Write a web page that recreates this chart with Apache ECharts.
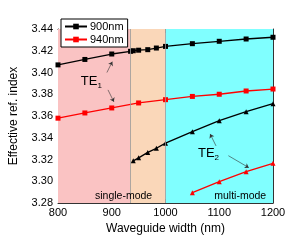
<!DOCTYPE html>
<html>
<head>
<meta charset="utf-8">
<script src="https://cdn.jsdelivr.net/npm/echarts@6/dist/echarts.min.js"></script>
<style>
  html, body { margin: 0; padding: 0; background: #fff; }
  #chart { width: 300px; height: 240px; }
</style>
</head>
<body>
<div id="chart"></div>
<script>
// waveguide widths (nm)
var te1Width900 = [800, 850, 900, 935, 940, 950, 967, 983, 1000, 1050, 1100, 1150, 1200];
var te1Index900 = [3.407, 3.412, 3.417, 3.4195, 3.420, 3.4205, 3.421, 3.4225, 3.424, 3.4265, 3.4287, 3.4308, 3.4324];

var te1Width940 = [800, 850, 900, 950, 1000, 1050, 1100, 1150, 1200];
var te1Index940 = [3.358, 3.3628, 3.3674, 3.372, 3.375, 3.378, 3.380, 3.383, 3.3848];

var te2Width900 = [940, 950, 967, 983, 1000, 1050, 1100, 1150, 1200];
var te2Index900 = [3.3188, 3.3215, 3.3265, 3.3303, 3.335, 3.3456, 3.3557, 3.364, 3.3713];

var te2Width940 = [1050, 1100, 1150, 1200];
var te2Index940 = [3.2895, 3.2996, 3.3088, 3.3165];

// regions: single-mode (both), single-mode (940 only), multi-mode
var modeEdges = [800, 934, 1000, 1200];
var modeColors = ['#fac3c3', '#fad7b9', '#80ffff'];

function pairs(xs, ys) {
  return xs.map(function (x, i) { return [x, ys[i]]; });
}

var fontName = 'Liberation Sans';

var chart = echarts.init(document.getElementById('chart'), null, { renderer: 'canvas' });

var axisCommon = {
  type: 'value',
  axisLine: { show: true, onZero: false, lineStyle: { color: '#333', width: 1 } },
  axisTick: { show: true, inside: true, length: 4, lineStyle: { color: '#333' } },
  minorTick: { show: true, splitNumber: 2, length: 2, lineStyle: { color: '#333' } },
  splitLine: { show: false },
  axisLabel: { color: '#000', fontFamily: fontName, fontSize: 11 }
};

function sub(label) {
  return {
    show: true,
    formatter: '{a|TE}{b|' + label + '}',
    rich: {
      a: { fontFamily: fontName, fontSize: 13, color: '#000' },
      b: { fontFamily: fontName, fontSize: 8, color: '#000', padding: [9, 0, 0, 0] }
    }
  };
}

var arrowStyle = { color: '#333', width: 0.6, type: 'solid' };

var option = {
  animation: false,
  textStyle: { fontFamily: fontName },
  grid: { left: 57, right: 27, top: 29, bottom: 37 },
  legend: {
    left: 61, top: 19,
    orient: 'vertical',
    data: ['900nm', '940nm'],
    backgroundColor: '#fff',
    borderColor: '#000',
    borderWidth: 1,
    borderRadius: 0,
    padding: [2, 4, 2, 3],
    itemGap: 2,
    itemWidth: 22,
    itemHeight: 7,
    textStyle: { fontFamily: fontName, fontSize: 11, color: '#000', padding: [0, 0, 0, -2] }
  },
  xAxis: [
    Object.assign({}, axisCommon, {
      min: 800, max: 1200, interval: 100,
      name: 'Waveguide width (nm)',
      nameLocation: 'middle', nameGap: 20,
      nameTextStyle: { fontFamily: fontName, fontSize: 12, color: '#000' },
      axisLabel: {
        color: '#000', fontFamily: fontName, fontSize: 11, margin: 4,
        formatter: function (v) { return String(v); }
      }
    }),
    Object.assign({}, axisCommon, {
      min: 800, max: 1200, interval: 100, position: 'top',
      axisLabel: { show: false }
    })
  ],
  yAxis: [
    Object.assign({}, axisCommon, {
      min: 3.28, max: 3.44, interval: 0.02,
      name: 'Effective ref. index',
      nameLocation: 'middle', nameGap: 38,
      nameTextStyle: { fontFamily: fontName, fontSize: 12, color: '#000' },
      axisLabel: {
        color: '#000', fontFamily: fontName, fontSize: 11, margin: 5,
        formatter: function (v) { return v.toFixed(2); }
      }
    }),
    Object.assign({}, axisCommon, {
      min: 3.28, max: 3.44, interval: 0.02, position: 'right',
      axisLabel: { show: false }
    })
  ],
  series: [
    {
      name: 'regions',
      type: 'line',
      data: [],
      z: 0,
      silent: true,
      markArea: {
        silent: true,
        data: modeColors.map(function (c, i) {
          return [
            { xAxis: modeEdges[i], itemStyle: { color: c } },
            { xAxis: modeEdges[i + 1] }
          ];
        })
      },
      markLine: {
        silent: true,
        symbol: 'none',
        label: { show: false },
        lineStyle: { color: '#999', width: 0.8, type: 'solid' },
        data: [{ xAxis: modeEdges[1] }, { xAxis: modeEdges[2] }]
      },
      markPoint: {
        silent: true,
        symbolSize: 0,
        data: [
          {
            coord: [922, 3.2865],
            label: { show: true, formatter: 'single-mode', fontFamily: fontName, fontSize: 10.5, color: '#000' }
          },
          {
            coord: [1139, 3.2865],
            label: { show: true, formatter: 'multi-mode', fontFamily: fontName, fontSize: 10.5, color: '#000' }
          },
          { coord: [862, 3.392], label: sub('1') },
          { coord: [1080, 3.326], label: sub('2') }
        ]
      }
    },
    {
      name: '900nm',
      type: 'line',
      data: pairs(te1Width900, te1Index900),
      symbol: 'rect',
      symbolSize: 5,
      color: '#000',
      lineStyle: { color: '#000', width: 1.3 },
      z: 3,
      markLine: {
        silent: true,
        symbol: ['none', 'arrow'],
        symbolSize: 4,
        label: { show: false },
        lineStyle: arrowStyle,
        itemStyle: { color: '#333' },
        data: [
          [{ coord: [891, 3.400] }, { coord: [901, 3.410] }],
          [{ coord: [893, 3.384] }, { coord: [904, 3.373] }],
          [{ coord: [1094, 3.3325] }, { coord: [1083, 3.3435] }],
          [{ coord: [1117, 3.3235] }, { coord: [1155, 3.3125] }]
        ]
      }
    },
    {
      name: '940nm',
      type: 'line',
      data: pairs(te1Width940, te1Index940),
      symbol: 'rect',
      symbolSize: 5,
      color: '#ff0000',
      lineStyle: { color: '#ff0000', width: 1.3 },
      z: 3
    },
    {
      name: '900nm',
      type: 'line',
      data: pairs(te2Width900, te2Index900),
      symbol: 'triangle',
      symbolSize: 5,
      color: '#000',
      lineStyle: { color: '#000', width: 1.3 },
      z: 3
    },
    {
      name: '940nm',
      type: 'line',
      data: pairs(te2Width940, te2Index940),
      symbol: 'triangle',
      symbolSize: 5,
      color: '#ff0000',
      lineStyle: { color: '#ff0000', width: 1.3 },
      z: 3
    }
  ]
};

chart.setOption(option);
</script>
</body>
</html>
